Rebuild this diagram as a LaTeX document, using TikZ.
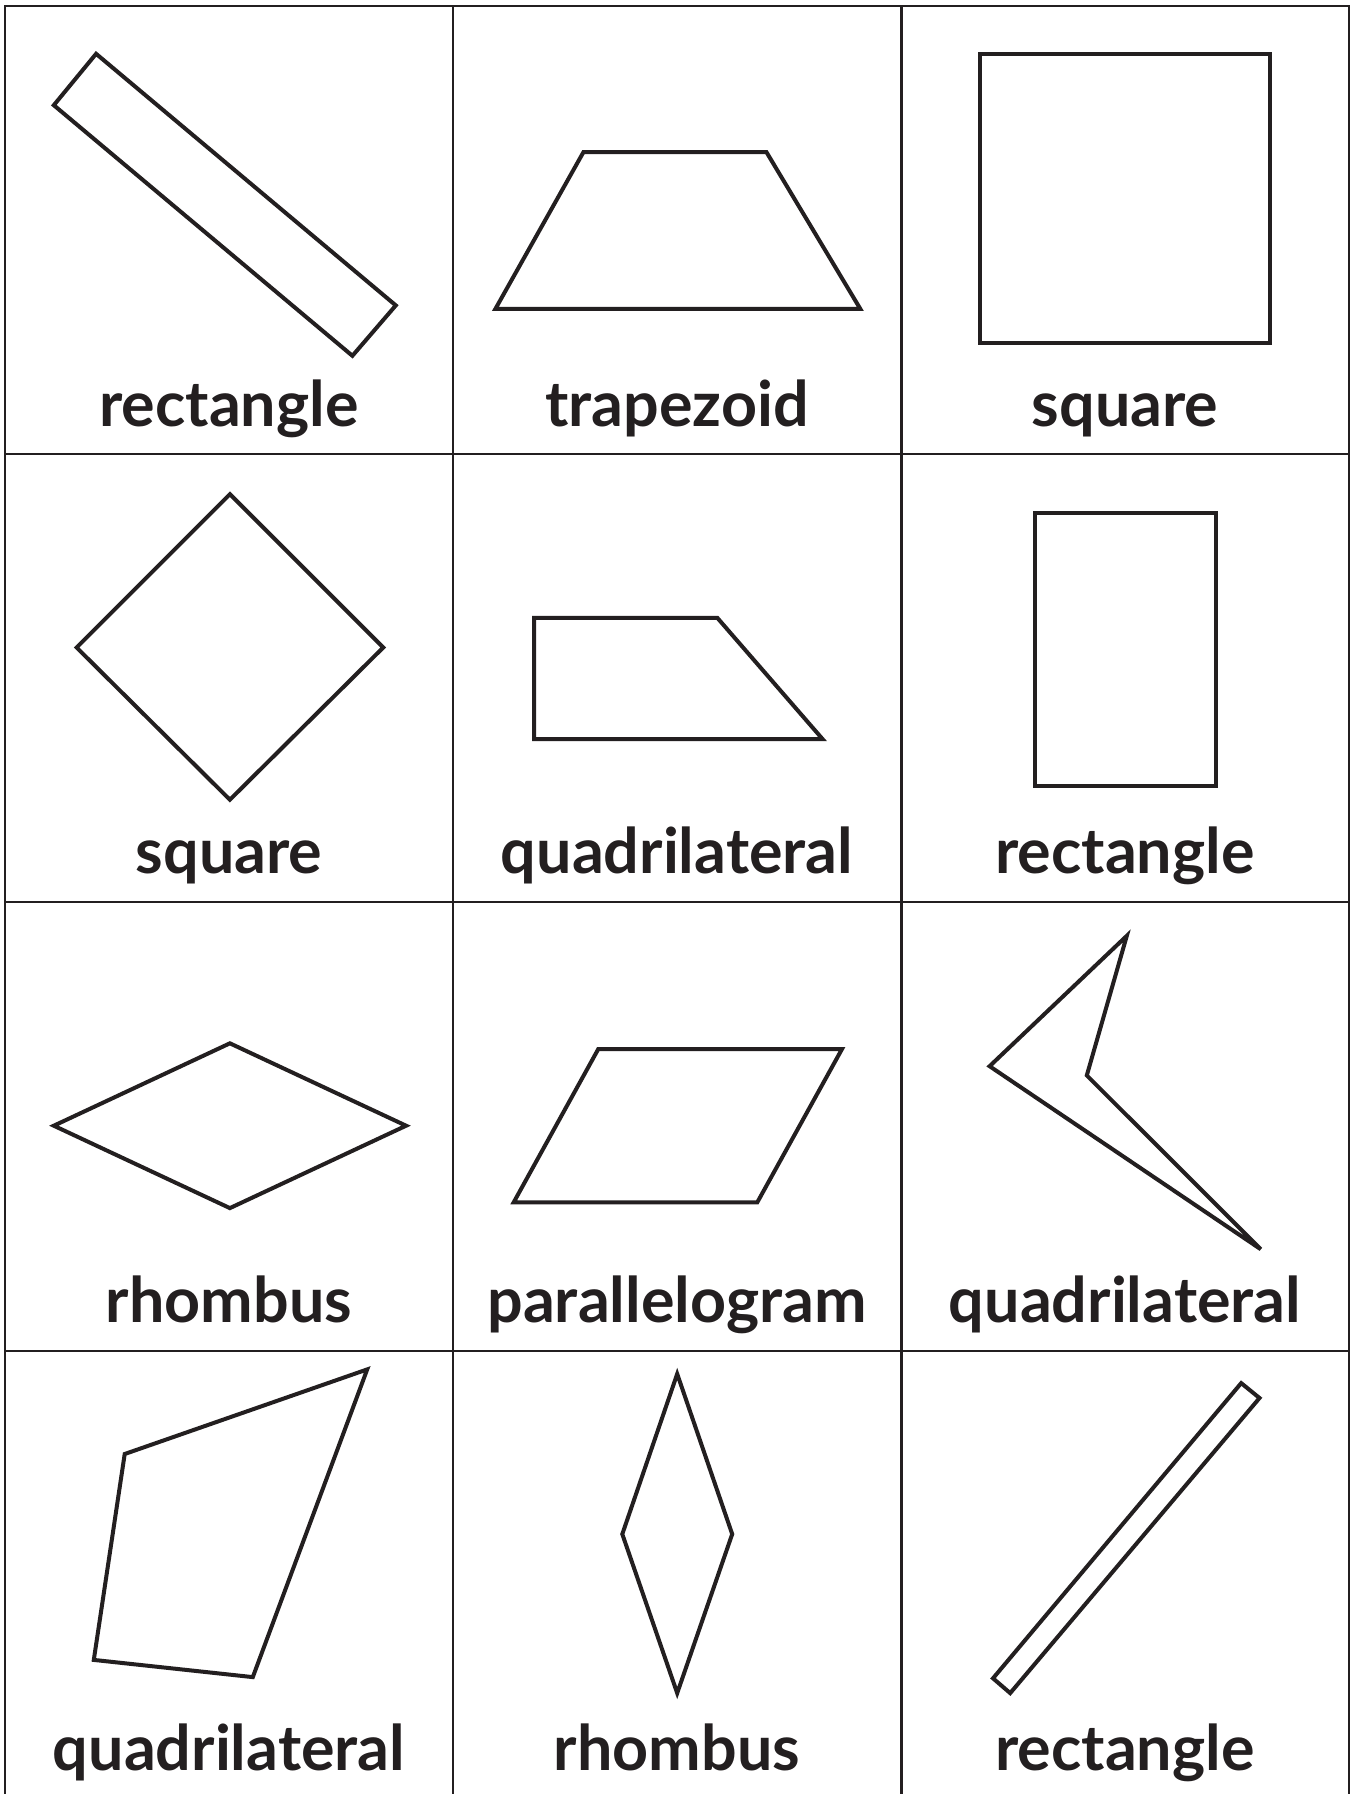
\documentclass[tikz,border=0pt]{standalone}
\usepackage{fontspec}
\setmainfont{Lato}
\definecolor{ink}{HTML}{231F20}
\begin{document}
\begin{tikzpicture}[x=0.5pt,y=-0.5pt,
  gridline/.style={draw=ink,line width=1.3pt},
  figline/.style={draw=ink,line width=2pt,line join=miter},
  lab/.style={anchor=base,text=ink,font=\fontsize{31.4}{31.4}\selectfont\bfseries,inner sep=0pt}]
\useasboundingbox[fill=white] (0,0) rectangle (1351,1794);
% grid
\draw[gridline] (5,1794) -- (5,6) -- (1349,6) -- (1349,1794);
\draw[gridline] (453,6) -- (453,1794);
\draw[gridline] (901.5,6) -- (901.5,1794);
\draw[gridline] (5,454) -- (1349,454);
\draw[gridline] (5,902) -- (1349,902);
\draw[gridline] (5,1351) -- (1349,1351);
% row 1
\draw[figline] (53.8,105.2) -- (96.1,53.8) -- (395.8,305.4) -- (352.4,355.8) -- cycle;
\draw[figline] (495.4,308.9) -- (583.4,152.2) -- (766.5,152.2) -- (860.3,308.9) -- cycle;
\draw[figline] (980.4,53.8) rectangle (1269.8,343.2);
\node[lab] (l1) at (229,426) {rectangle};
\node[lab] (l2) at (677,426) {trapezoid};
\node[lab] (l3) at (1125,426) {square};
% row 2
\draw[figline] (229.9,494.2) -- (383.2,647.5) -- (229.9,799.7) -- (76.6,647.5) -- cycle;
\draw[figline] (534.2,617.8) -- (717.3,617.8) -- (822.5,739) -- (534.2,739) -- cycle;
\draw[figline] (1035.3,512.5) rectangle (1216.1,785.9);
\node[lab] (l4) at (229,873) {square};
\node[lab] (l5) at (677,873) {quadrilateral};
\node[lab] (l6) at (1125,873) {rectangle};
% row 3
\draw[figline] (53.8,1125.7) -- (229.9,1043.3) -- (406.1,1125.7) -- (229.9,1208.1) -- cycle;
\draw[figline] (513.7,1202.3) -- (598.3,1049) -- (842,1049) -- (757.3,1202.3) -- cycle;
\draw[figline] (1126.8,935.8) -- (1086.8,1075.4) -- (1260.7,1249.2) -- (989.6,1066.2) -- cycle;
\node[lab] (l7) at (229,1322) {rhombus};
\node[lab] (l8) at (677,1322) {parallelogram};
\node[lab] (l9) at (1125,1322) {quadrilateral};
% row 4
\draw[figline] (124.7,1454) -- (367.2,1369.4) -- (252.8,1677.1) -- (93.8,1659.9) -- cycle;
\draw[figline] (677.2,1373.9) -- (732.2,1534.1) -- (677.2,1693.1) -- (622.3,1534.1) -- cycle;
\draw[figline] (1241.2,1383.1) -- (1259.5,1398) -- (1010.2,1693.1) -- (993,1678.3) -- cycle;
\node[lab] (l10) at (229,1770) {quadrilateral};
\node[lab] (l11) at (677,1770) {rhombus};
\node[lab] (l12) at (1125,1770) {rectangle};
\end{tikzpicture}
\end{document}
